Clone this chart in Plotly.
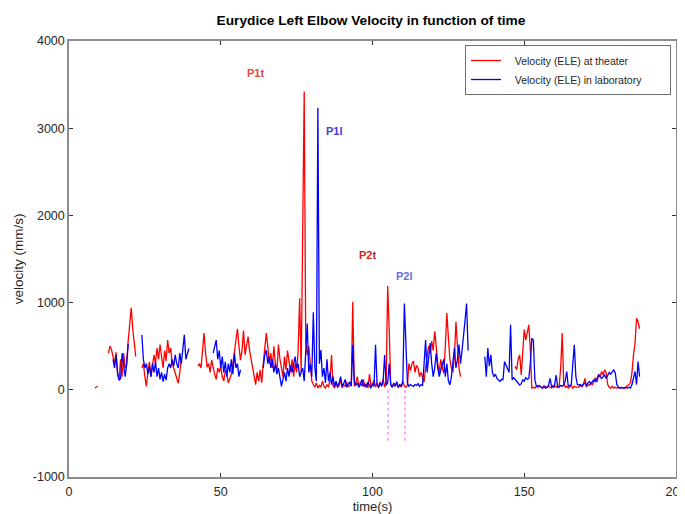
"""
Eurydice Left Elbow Velocity - theater vs laboratory
"""
import numpy as np
import plotly.graph_objects as go

# ── Theme ──────────────────────────────────────────────────────
FONT = "Liberation Sans, Arial, sans-serif"
RED = "rgb(255,0,0)"
BLUE = "rgb(0,0,255)"
MAGENTA = "rgb(255,80,255)"
AXIS_COLOR = "#8c8c8c"
TEXT_COLOR = "#262626"
# the page body adds an 8 px margin; the figure is shifted to compensate,
# and runs a little past the right edge so the "200" label is clipped as in the original
FIG_W, FIG_H = 685, 506

# ── Data (velocity in mm/s, sampled every 0.5 s from t = 8 s) ──
TIME_START = 8.0
TIME_STEP = 0.5
N = None

theater_velocity = [
    N, 20, 30, 40, N, N, 150, N, N, N,                       # 8
    420, 500, 460, 380, 300, 430, 180, 110, 350, 150,         # 13
    420, 250, 300, 560, 780, 940, 700, 560, 380, N,           # 18
    N, N, 250, 300, 150, 40, 200, 320, 150, 280,              # 23
    400, 300, 480, 350, 520, 380, 250, 450, 330, 570,         # 28
    420, 480, 300, 250, 180, 120, 75, 200, 350, N,            # 33
    N, N, N, N, N, N, N, N, N, 270,                           # 38
    300, 250, 500, 650, 420, 260, 300, 200, 340, 250,         # 43
    180, 120, 250, 200, 270, 150, 100, 220, 180, 80,          # 48
    120, 180, 300, 450, 550, 700, 500, 340, 450, 680,         # 53
    400, 520, 610, 450, 350, 230, 150, 60, 200, 100,          # 58
    230, 80, 300, 480, 650, 500, 300, 420, 250, 500,          # 63
    300, 200, 520, 350, 250, 150, 380, 230, 450, 300,         # 68
    200, 350, 150, 300, 200, 450, 1050, 200, 1700, 3420,      # 73
    550, 400, 500, 250, 100, 60, 30, 80, 20, 50,              # 78
    30, 100, 40, 20, 60, 30, 120, 400, 50, 20,                # 83
    80, 30, 50, 110, 20, 60, 40, 90, 30, 50,                  # 88
    60, 1010, 40, 80, 150, 30, 90, 40, 120, 30,               # 93
    70, 20, 180, 40, 60, 110, 30, 80, 20, 90,                 # 98
    50, 120, 30, 100, 1190, 700, 60, 30, 80, 40,              # 103
    90, 20, 60, 30, 100, 40, 30, 50, 300, 220,                # 108
    300, 330, 200, 280, 250, 150, 200, 140, 90, 250,          # 113
    380, 500, 420, 560, 450, 670, 500, 300, 200, 350,         # 118
    250, 190, 500, 880, 600, 350, 250, 200, 400, 780,         # 123
    500, 250, 150, N, N, N, N, N, N, N,                       # 128
    N, N, N, N, N, N, N, N, N, N,                             # 133
    N, N, N, N, N, N, N, N, N, N,                             # 138
    N, N, N, N, N, N, N, N, 270, 230,                         # 143
    350, 400, 170, 450, 690, 570, 650, 745, 460, 20,          # 148
    30, 20, 40, 25, 50, 30, 20, 45, 30, 25,                   # 153
    40, 30, 20, 50, 30, 40, 25, 40, 250, 650,                 # 158
    80, 30, 40, 20, 30, 50, 20, 40, 30, 30,                   # 163
    30, 50, 40, 60, 130, 30, 60, 50, 80, 60,                  # 168
    100, 140, 90, 180, 150, 210, 170, 230, 200, 60,           # 173
    30, 20, 40, 20, 30, 20, 25, 20, 30, 20,                   # 178
    20, 30, 40, 60, 80, 200, 400, 535, 820, 780,              # 183
    700,                                                      # 188
]

lab_velocity = [
    N, N, N, N, N, N, N, N, N, N,                             # 8
    N, N, N, 350, 250, 400, 200, 110, 130, 420,               # 13
    300, 150, 290, 530, N, N, N, N, N, N,                     # 18
    N, N, 630, 350, 250, 300, 180, 270, 150, 300,             # 23
    200, 320, 150, 250, 120, 200, 95, 180, 110, 250,          # 28
    300, 250, 350, 270, 400, 300, 250, 420, 300, 450,         # 33
    630, 350, 400, 475, N, N, N, N, N, N,                     # 38
    N, N, N, N, N, N, N, N, N, 420,                           # 43
    500, 570, 350, 450, 250, 380, 200, 320, 150, 300,         # 48
    200, 350, 180, 420, 250, 300, 150, 230, N, N,             # 53
    N, N, N, N, N, N, N, N, N, N,                             # 58
    N, N, 250, 400, 455, 300, 380, 250, 350, 200,             # 63
    300, 180, 250, 150, 40, 120, 200, 100, 250, 150,          # 68
    280, 200, 300, 380, 250, 300, 150, 200, 250, 100,         # 73
    400, 760, 200, 300, 150, 890, 250, 100, 3234, 300,        # 78
    455, 150, 250, 80, 350, 100, 200, 60, 150, 40,            # 83
    100, 30, 80, 150, 40, 70, 120, 30, 60, 90,                # 88
    40, 515, 100, 50, 80, 30, 60, 120, 40, 70,                # 93
    30, 90, 50, 20, 70, 40, 515, 60, 30, 80,                  # 98
    40, 100, 400, 50, 80, 300, 60, 30, 70, 40,                # 103
    90, 30, 60, 40, 100, 990, 535, 80, 40, 60,                # 108
    50, 40, 60, 50, 70, 40, 60, 50, 300, 570,                 # 113
    200, 350, 535, 300, 150, 250, 420, 250, 150, 230,         # 118
    300, 350, 150, 300, 100, 57, 150, 300, 480, 250,          # 123
    350, 520, 300, 450, 600, 800, 990, 450, N, N,             # 128
    N, N, N, N, N, N, N, N, 380, 150,                         # 133
    480, 270, 400, 200, 150, 180, 130, 110, 95, 120,          # 138
    115, 325, 280, 230, 200, 745, 115, 140, 120, 95,          # 143
    80, 55, 70, 115, 100, 140, 120, 130, 300, 590,            # 148
    570, 115, 40, 50, 40, 30, 20, 40, 20, 30,                 # 153
    50, 130, 40, 30, 50, 170, 40, 30, 50, 40,                 # 158
    60, 100, 210, 40, 55, 60, 300, 515, 150, 60,              # 163
    55, 60, 40, 70, 75, 50, 80, 95, 60, 100,                  # 168
    115, 90, 130, 170, 150, 130, 150, 170, 130, 170,          # 173
    200, 180, 210, 230, 190, 60, 30, 20, 25, 20,              # 178
    20, 25, 20, 30, 20, 60, 120, 210, 60, 325,                # 183
    150,                                                      # 188
]

# axis ticks
x_ticks = [0, 50, 100, 150, 200]
y_ticks = [-1000, 0, 1000, 2000, 3000, 4000]
y_tick_labels = ["-1000", "0", "1000", "2000", "3000", "4000"]

# peak instants (s) marked by dotted lines below zero
peak_marks_t = [105.1, 110.7]
peak_marks_depth = -620

# peak labels
label_text = ["P1t", "P1l", "P2t", "P2l"]
label_t = [61.6, 87.6, 98.2, 110.7]
label_v = [3635, 2970, 1548, 1307]
label_color = ["#e04a3a", "#3f3fd6", "#c8281e", "#6a6ae6"]

time_theater = TIME_START + TIME_STEP * np.arange(len(theater_velocity))
time_lab = TIME_START + TIME_STEP * np.arange(len(lab_velocity))

PAD_L = "\u00a0" * 3    # legend text sits a bit further from the line sample
PAD_R = "\u00a0" * 8    # and the box is wider than the text

# ═══════════════════════════════════════════════════════════════
fig = go.Figure()

fig.add_trace(go.Scatter(
    x=time_theater, y=theater_velocity, mode="lines",
    line=dict(color=RED, width=1.3),
    name=PAD_L + "Velocity (ELE) at theater" + PAD_R,
))
fig.add_trace(go.Scatter(
    x=time_lab, y=lab_velocity, mode="lines",
    line=dict(color=BLUE, width=1.3),
    name=PAD_L + "Velocity (ELE) in laboratory" + PAD_R,
))

for t in peak_marks_t:
    fig.add_trace(go.Scatter(
        x=[t, t], y=[0, peak_marks_depth], mode="lines",
        line=dict(color=MAGENTA, width=1, dash="dot"),
        showlegend=False, hoverinfo="skip",
    ))

for txt, t, v, c in zip(label_text, label_t, label_v, label_color):
    fig.add_annotation(
        x=t, y=v, text=f"<b>{txt}</b>", showarrow=False,
        font=dict(family=FONT, size=11, color=c),
    )

axis_common = dict(
    showline=True, linecolor=AXIS_COLOR, linewidth=1.5, mirror="ticks",
    ticks="inside", ticklen=4, tickcolor="#333333", tickwidth=1,
    showgrid=False, zeroline=False, automargin=False,
    tickfont=dict(family=FONT, size=12.5, color=TEXT_COLOR),
)

fig.update_layout(
    width=FIG_W, height=FIG_H,
    paper_bgcolor="white", plot_bgcolor="white",
    margin=dict(l=61, r=17, t=33, b=37, autoexpand=False),
    font=dict(family=FONT, size=12, color=TEXT_COLOR),
    title=dict(
        text="<b>Eurydice Left Elbow Velocity in function of time</b>",
        x=363 / FIG_W, xanchor="center", y=1 - 12 / FIG_H, yanchor="middle",
        font=dict(family=FONT, size=13.7, color="#000000"),
        automargin=False,
    ),
    xaxis=dict(range=[0, 200], tickvals=x_ticks, ticklabelstandoff=2,
               title=dict(text="time(s)", standoff=3,
                          font=dict(family=FONT, size=13, color=TEXT_COLOR)),
               **axis_common),
    yaxis=dict(range=[-1000, 4000], tickvals=y_ticks, ticktext=y_tick_labels,
               title=dict(text="velocity (mm/s)", standoff=6,
                          font=dict(family=FONT, size=13.5, color=TEXT_COLOR)),
               **axis_common),
    legend=dict(
        x=0.9918, xanchor="right", y=0.9908, yanchor="top",
        bgcolor="white", bordercolor="#6e6e6e", borderwidth=1,
        font=dict(family=FONT, size=10.5, color=TEXT_COLOR),
        tracegroupgap=0, itemwidth=30,
    ),
    showlegend=True,
)

fig.write_html("out.html")
